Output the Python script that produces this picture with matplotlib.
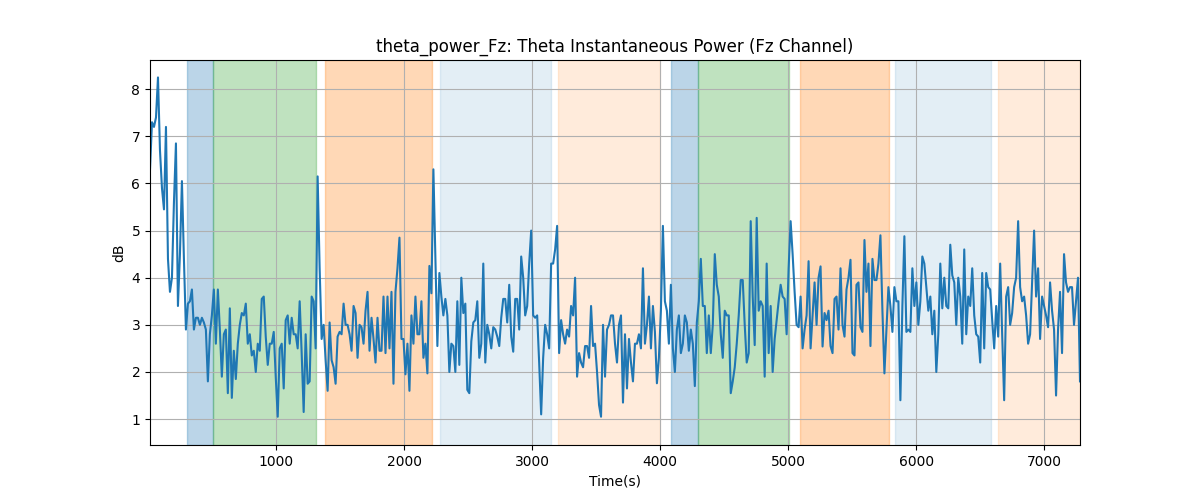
import numpy as np
import matplotlib
matplotlib.use("Agg")
import matplotlib.pyplot as plt

# theta power (dB), sampled roughly every 15.6 s
power_db = [
    # 16 - 780 s
    6.3, 7.3, 7.2, 7.4, 8.25, 6.7, 5.9, 5.45, 7.2, 4.4,
    3.7, 4.0, 5.6, 6.85, 3.4, 4.5, 6.05, 4.4, 2.9, 3.45,
    3.5, 3.75, 2.9, 3.15, 3.15, 3.0, 3.15, 3.05, 2.9, 1.8,
    2.8, 3.2, 3.75, 2.6, 3.75, 2.9, 1.9, 2.8, 2.9, 1.55,
    3.35, 1.45, 2.45, 1.85, 2.6, 3.0, 3.25, 3.2, 3.45, 2.6,
    # 790 - 1540 s
    2.8, 2.35, 2.45, 2.0, 2.6, 2.45, 3.55, 3.6, 2.75, 2.15,
    2.6, 2.6, 2.85, 1.9, 1.05, 2.5, 2.6, 1.65, 3.1, 3.2,
    2.6, 3.15, 2.8, 2.8, 2.5, 3.5, 2.4, 1.15, 2.8, 1.75,
    1.8, 3.6, 3.5, 2.5, 6.15, 4.2, 2.7, 3.0, 2.25, 1.6,
    3.05, 2.25, 2.1, 1.75, 2.75, 2.85, 2.8, 3.45, 3.0,
    # 1555 - 2275 s
    3.0, 2.8, 2.45, 3.4, 3.25, 2.3, 3.0, 2.95, 2.6, 3.3,
    3.7, 2.45, 3.15, 2.7, 2.2, 3.15, 2.45, 2.45, 3.6, 2.4,
    3.6, 2.5, 3.7, 1.75, 3.7, 4.2, 4.85, 2.7, 2.7, 1.95,
    2.6, 1.6, 3.2, 2.6, 3.6, 2.8, 2.8, 3.5, 2.3, 2.6,
    1.97, 4.25, 3.67, 6.3, 4.4, 2.55, 4.1,
    # 2290 - 3020 s
    3.6, 3.2, 3.55, 3.2, 2.0, 2.6, 2.55, 2.0, 3.5, 2.15,
    4.0, 3.25, 3.45, 1.62, 1.55, 2.65, 3.05, 3.1, 3.5, 2.3,
    2.6, 4.3, 2.2, 3.0, 2.8, 2.5, 2.95, 2.9, 2.75, 2.55,
    3.15, 3.55, 3.55, 3.05, 3.85, 2.75, 2.43, 3.55, 3.55, 2.9,
    4.45, 4.0, 3.2, 3.4, 4.3, 5.0, 3.2, 3.15,
    # 3040 - 3760 s
    3.2, 2.2, 1.1, 2.3, 3.0, 2.8, 2.5, 4.3, 4.3, 4.6,
    5.1, 2.4, 3.1, 2.8, 2.6, 2.9, 2.75, 3.4, 3.2, 4.0,
    1.9, 2.4, 2.2, 2.1, 2.55, 2.55, 2.3, 3.4, 2.55, 2.6,
    2.0, 1.3, 1.05, 3.0, 1.9, 2.9, 3.0, 3.2, 3.2, 2.6,
    2.2, 3.0, 3.2, 1.35, 2.8, 1.65, 2.7,
    # 3770 - 4500 s
    2.2, 1.8, 2.6, 2.6, 2.8, 2.5, 4.2, 2.6, 3.0, 3.6,
    2.5, 3.4, 2.85, 1.76, 2.3, 3.3, 5.1, 3.5, 3.3, 2.6,
    3.85, 2.5, 2.0, 2.9, 3.2, 2.4, 2.6, 3.2, 3.05, 2.45,
    2.9, 2.6, 1.7, 3.05, 3.5, 4.4, 3.4, 3.4, 2.4, 3.2,
    2.4, 3.0, 4.5, 3.85, 3.6, 2.8, 2.3, 3.3,
    # 4520 - 5240 s
    3.2, 3.2, 1.55, 1.8, 2.1, 2.6, 3.2, 3.95, 3.95, 3.0,
    2.2, 2.4, 5.2, 3.6, 2.57, 5.27, 3.3, 3.5, 3.4, 1.9,
    4.3, 2.4, 3.4, 2.0, 2.7, 3.1, 3.5, 3.85, 3.6, 3.55,
    2.8, 4.2, 5.2, 4.5, 3.7, 3.0, 2.95, 3.6, 2.5, 2.9,
    3.2, 4.35, 2.5, 3.2, 3.9, 3.0, 4.0,
    # 5250 - 5985 s
    4.24, 2.54, 3.25, 3.1, 3.3, 2.55, 2.4, 3.55, 3.6, 2.9,
    4.2, 3.0, 2.75, 3.75, 4.0, 4.38, 2.4, 2.35, 3.85, 3.9,
    2.95, 2.85, 4.8, 3.7, 4.3, 2.55, 4.4, 3.95, 3.95, 4.3,
    4.9, 3.3, 1.97, 2.9, 3.8, 3.4, 2.85, 3.8, 3.5, 3.5,
    1.4, 3.4, 4.88, 2.85, 2.9, 2.85, 4.2, 3.4,
    # 6000 - 6720 s
    3.9, 3.0, 3.5, 4.45, 4.3, 3.8, 3.3, 3.6, 2.8, 3.3,
    2.0, 2.8, 4.3, 3.35, 4.0, 3.4, 3.35, 4.7, 4.05, 3.9,
    3.0, 4.0, 3.6, 2.6, 4.6, 2.8, 3.6, 3.4, 4.2, 3.2,
    2.8, 2.75, 2.2, 4.1, 2.5, 4.1, 3.8, 3.75, 3.1, 2.5,
    3.4, 2.75, 4.3, 2.8, 1.4, 3.6, 3.8,
    # 6740 - 7280 s
    3.0, 3.25, 3.8, 4.0, 5.2, 3.8, 3.5, 3.6, 3.2, 2.6,
    2.8, 3.9, 5.0, 3.6, 4.2, 2.7, 3.6, 3.4, 3.2, 2.95,
    3.9, 3.3, 2.9, 1.5, 2.9, 3.7, 2.4, 4.5, 3.9, 3.7,
    3.8, 3.8, 3.0, 3.5, 4.0, 1.8,
]
t_start, t_end = 16, 7280
time_s = np.linspace(t_start, t_end, len(power_db))

# stage intervals (start, end, colour, alpha)
span_start = [305, 508, 1383, 2281, 3203, 4086, 4297, 5094, 5836, 6641]
span_end = [508, 1312, 2219, 3148, 4000, 4297, 5008, 5789, 6586, 7281]
span_color = ['tab:blue', 'tab:green', 'tab:orange', 'tab:blue', 'tab:orange',
              'tab:blue', 'tab:green', 'tab:orange', 'tab:blue', 'tab:orange']
span_alpha = [0.3, 0.3, 0.3, 0.12, 0.15, 0.3, 0.3, 0.3, 0.12, 0.15]

fig, ax = plt.subplots(figsize=(12, 5), dpi=100)

for s, e, c, a in zip(span_start, span_end, span_color, span_alpha):
    ax.axvspan(s, e, color=c, alpha=a)

ax.plot(time_s, power_db, color='tab:blue', linewidth=1.5)

ax.set_xlim(time_s[0], time_s[-1])
ax.set_ylim(0.45, 8.62)
ax.set_title('theta_power_Fz: Theta Instantaneous Power (Fz Channel)')
ax.set_xlabel('Time(s)')
ax.set_ylabel('dB')
ax.grid(True)

plt.savefig('out.png')
